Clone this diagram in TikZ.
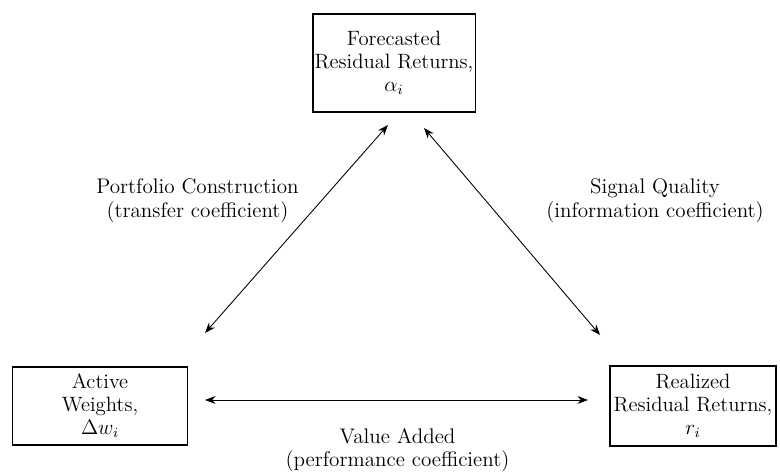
\documentclass[tikz,border=0pt]{standalone}
\usepackage{amsmath,amssymb}
\usepackage{tikz}
\usetikzlibrary{arrows.meta,positioning}

\begin{document}
\begin{tikzpicture}[
  box/.style={draw, line width=0.7pt, font=\fontsize{11.8}{13}\selectfont, align=center, inner sep=1pt},
  lbl/.style={font=\fontsize{12}{13.4}\selectfont, align=center},
  arr/.style={{Stealth[length=6pt,width=4.5pt]}-{Stealth[length=6pt,width=4.5pt]}, line width=0.5pt},
]
\useasboundingbox (0,0) rectangle (15.6,9.5);
\node[box, minimum width=3.18cm, minimum height=1.96cm] (fore) at (7.88,8.24)
  {Forecasted\\ Residual Returns,\\ $\alpha_i$};
\node[box, minimum width=3.5cm, minimum height=1.56cm] (active) at (2.0,1.38)
  {Active\\ Weights,\\ $\Delta w_i$};
\node[box, minimum width=3.32cm, minimum height=1.6cm] (real) at (13.86,1.38)
  {Realized\\ Residual Returns,\\ $r_i$};
% arrow ends
\coordinate (tl) at (7.76,7.0);
\coordinate (bl) at (4.1,2.84);
\coordinate (tr) at (8.48,6.94);
\coordinate (br) at (12.0,2.8);
\coordinate (hl) at (4.1,1.5);
\coordinate (hr) at (11.76,1.5);
\draw[arr] (bl) -- (tl);
\draw[arr] (br) -- (tr);
\draw[arr] (hl) -- (hr);
\node[lbl] (pc) at (3.95,5.48) {Portfolio Construction\\ (transfer coefficient)};
\node[lbl] (sq) at (13.1,5.48) {Signal Quality\\ (information coefficient)};
\node[lbl] (va) at (7.95,0.5) {Value Added\\ (performance coefficient)};
\end{tikzpicture}
\end{document}
